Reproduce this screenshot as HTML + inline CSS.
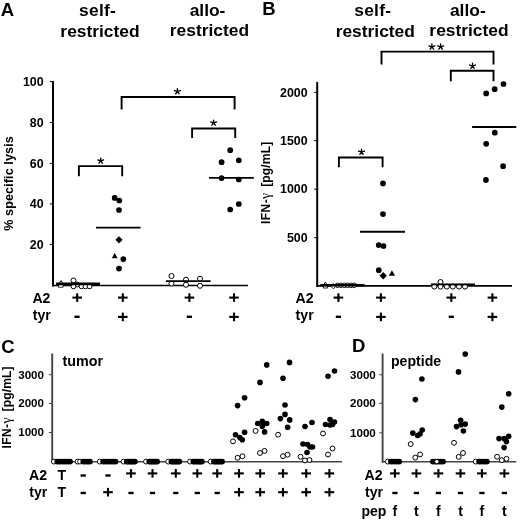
<!DOCTYPE html>
<html><head><meta charset="utf-8">
<style>
html,body{margin:0;padding:0;background:#fff;}
body{width:520px;height:522px;overflow:hidden;}
svg{display:block;filter:grayscale(1);}
text{font-family:"Liberation Sans", sans-serif;fill:#000;}
</style></head>
<body>
<svg width="520" height="522" viewBox="0 0 520 522">
<rect width="520" height="522" fill="#fff"/>
<text x="0.8" y="16.3" font-size="18.5" text-anchor="start" font-weight="bold" >A</text>
<text x="262.2" y="14.8" font-size="18.5" text-anchor="start" font-weight="bold" >B</text>
<text x="1.2" y="352.6" font-size="18.5" text-anchor="start" font-weight="bold" >C</text>
<text x="352" y="352.2" font-size="18.5" text-anchor="start" font-weight="bold" >D</text>
<text x="97.6" y="16.3" font-size="17.4" text-anchor="middle" font-weight="bold" letter-spacing="0.3">self-</text>
<text x="100" y="37" font-size="17.4" text-anchor="middle" font-weight="bold" >restricted</text>
<text x="207.5" y="15.6" font-size="17.4" text-anchor="middle" font-weight="bold" >allo-</text>
<text x="209.4" y="36.3" font-size="17.4" text-anchor="middle" font-weight="bold" >restricted</text>
<text x="372.8" y="16.3" font-size="17.4" text-anchor="middle" font-weight="bold" letter-spacing="0.3">self-</text>
<text x="375.3" y="37" font-size="17.4" text-anchor="middle" font-weight="bold" >restricted</text>
<text x="467.8" y="15.6" font-size="17.4" text-anchor="middle" font-weight="bold" >allo-</text>
<text x="469" y="36.3" font-size="17.4" text-anchor="middle" font-weight="bold" >restricted</text>
<line x1="53" y1="81" x2="53" y2="286.5" stroke="#000" stroke-width="2"/>
<line x1="52" y1="285.5" x2="248" y2="285.5" stroke="#000" stroke-width="1.7"/>
<line x1="49.8" y1="81.6" x2="53" y2="81.6" stroke="#000" stroke-width="1"/>
<text x="43.6" y="86.0" font-size="12.4" text-anchor="end" font-weight="bold" >100</text>
<line x1="49.8" y1="122.6" x2="53" y2="122.6" stroke="#000" stroke-width="1"/>
<text x="43.6" y="127.0" font-size="12.4" text-anchor="end" font-weight="bold" >80</text>
<line x1="49.8" y1="163.4" x2="53" y2="163.4" stroke="#000" stroke-width="1"/>
<text x="43.6" y="167.8" font-size="12.4" text-anchor="end" font-weight="bold" >60</text>
<line x1="49.8" y1="203.9" x2="53" y2="203.9" stroke="#000" stroke-width="1"/>
<text x="43.6" y="208.3" font-size="12.4" text-anchor="end" font-weight="bold" >40</text>
<line x1="49.8" y1="244.4" x2="53" y2="244.4" stroke="#000" stroke-width="1"/>
<text x="43.6" y="248.8" font-size="12.4" text-anchor="end" font-weight="bold" >20</text>
<text transform="translate(12.8,183.5) rotate(-90)" font-size="12.6" font-weight="bold" text-anchor="middle" letter-spacing="0.1">% specific lysis</text>
<circle cx="73.5" cy="280.5" r="2.5" fill="#fff" stroke="#000" stroke-width="1.0"/>
<circle cx="77.3" cy="284.5" r="2.4" fill="#fff" stroke="#000" stroke-width="1.0"/>
<circle cx="73.5" cy="286.4" r="2.4" fill="#fff" stroke="#000" stroke-width="1.0"/>
<circle cx="81.5" cy="286.4" r="2.4" fill="#fff" stroke="#000" stroke-width="1.0"/>
<circle cx="85.4" cy="286.4" r="2.4" fill="#fff" stroke="#000" stroke-width="1.0"/>
<circle cx="89.6" cy="286.4" r="2.4" fill="#fff" stroke="#000" stroke-width="1.0"/>
<polygon points="59.0,283.9 63.0,283.9 61,280.5" fill="#fff" stroke="#000" stroke-width="0.9"/>
<rect x="58.6" y="284.6" width="4.4" height="2.6" fill="#fff" stroke="#000" stroke-width="0.8"/>
<circle cx="114.7" cy="197.9" r="2.85" fill="#000"/>
<circle cx="119.3" cy="200.5" r="2.85" fill="#000"/>
<circle cx="119" cy="210" r="2.85" fill="#000"/>
<circle cx="123.3" cy="259.1" r="2.85" fill="#000"/>
<circle cx="119" cy="268.6" r="2.85" fill="#000"/>
<polygon points="119,236.20000000000002 122.6,239.8 119,243.4 115.4,239.8" fill="#000"/>
<polygon points="111.7,258.3 117.7,258.3 114.7,253.1" fill="#000"/>
<circle cx="171.5" cy="276" r="2.55" fill="#fff" stroke="#000" stroke-width="1.0"/>
<circle cx="171.5" cy="283.5" r="2.55" fill="#fff" stroke="#000" stroke-width="1.0"/>
<circle cx="186" cy="279.75" r="2.55" fill="#fff" stroke="#000" stroke-width="1.0"/>
<circle cx="186" cy="284.75" r="2.55" fill="#fff" stroke="#000" stroke-width="1.0"/>
<circle cx="200" cy="278.75" r="2.55" fill="#fff" stroke="#000" stroke-width="1.0"/>
<circle cx="200" cy="285.75" r="2.55" fill="#fff" stroke="#000" stroke-width="1.0"/>
<circle cx="230.2" cy="150.2" r="2.85" fill="#000"/>
<circle cx="221.6" cy="162.2" r="2.85" fill="#000"/>
<circle cx="238.8" cy="160.3" r="2.85" fill="#000"/>
<circle cx="221.6" cy="178.1" r="2.85" fill="#000"/>
<circle cx="238.8" cy="179.5" r="2.85" fill="#000"/>
<circle cx="238.8" cy="204" r="2.85" fill="#000"/>
<circle cx="230.2" cy="209.5" r="2.85" fill="#000"/>
<polyline points="78.9,176.2 78.9,166.1 122.2,166.1 122.2,176.2" fill="none" stroke="#000" stroke-width="1.9"/>
<path d="M100.70,160.88L100.70,158.08M100.70,160.88L103.65,159.92M100.70,160.88L97.75,159.92M100.70,160.88L102.40,163.22M100.70,160.88L99.00,163.22" stroke="#000" stroke-width="1.35" stroke-linecap="round" fill="none"/>
<polyline points="121.6,109.6 121.6,97 234.6,97 234.6,109.6" fill="none" stroke="#000" stroke-width="1.9"/>
<path d="M177.40,91.47L177.40,88.67M177.40,91.47L180.35,90.52M177.40,91.47L174.45,90.52M177.40,91.47L179.10,93.82M177.40,91.47L175.70,93.82" stroke="#000" stroke-width="1.35" stroke-linecap="round" fill="none"/>
<polyline points="192.1,137.9 192.1,128.5 235.2,128.5 235.2,137.9" fill="none" stroke="#000" stroke-width="1.9"/>
<path d="M213.60,122.88L213.60,120.08M213.60,122.88L216.55,121.92M213.60,122.88L210.65,121.92M213.60,122.88L215.30,125.22M213.60,122.88L211.90,125.22" stroke="#000" stroke-width="1.35" stroke-linecap="round" fill="none"/>
<text x="32.4" y="303" font-size="14.1" text-anchor="start" font-weight="bold" >A2</text>
<text x="32.8" y="319.7" font-size="14.1" text-anchor="start" font-weight="bold" >tyr</text>
<rect x="72.40" y="296.55" width="9.6" height="2.1"/>
<rect x="76.15" y="293.30" width="2.1" height="8.6"/>
<rect x="118.00" y="296.55" width="9.6" height="2.1"/>
<rect x="121.75" y="293.30" width="2.1" height="8.6"/>
<rect x="184.60" y="296.55" width="9.6" height="2.1"/>
<rect x="188.35" y="293.30" width="2.1" height="8.6"/>
<rect x="229.20" y="296.55" width="9.6" height="2.1"/>
<rect x="232.95" y="293.30" width="2.1" height="8.6"/>
<rect x="74.40" y="315.60" width="5.2" height="2.4"/>
<rect x="118.00" y="315.85" width="9.6" height="2.1"/>
<rect x="121.75" y="312.60" width="2.1" height="8.6"/>
<rect x="186.80" y="315.60" width="5.2" height="2.4"/>
<rect x="229.20" y="315.85" width="9.6" height="2.1"/>
<rect x="232.95" y="312.60" width="2.1" height="8.6"/>
<line x1="317.2" y1="81.9" x2="317.2" y2="287" stroke="#000" stroke-width="2"/>
<line x1="316.5" y1="285.9" x2="512" y2="285.9" stroke="#000" stroke-width="1.8"/>
<line x1="314.2" y1="92.4" x2="317.2" y2="92.4" stroke="#000" stroke-width="1"/>
<text x="307.6" y="96.60000000000001" font-size="12.4" text-anchor="end" font-weight="bold" >2000</text>
<line x1="314.2" y1="140.6" x2="317.2" y2="140.6" stroke="#000" stroke-width="1"/>
<text x="307.6" y="144.79999999999998" font-size="12.4" text-anchor="end" font-weight="bold" >1500</text>
<line x1="314.2" y1="189.2" x2="317.2" y2="189.2" stroke="#000" stroke-width="1"/>
<text x="307.6" y="193.39999999999998" font-size="12.4" text-anchor="end" font-weight="bold" >1000</text>
<line x1="314.2" y1="237.7" x2="317.2" y2="237.7" stroke="#000" stroke-width="1"/>
<text x="307.6" y="241.89999999999998" font-size="12.4" text-anchor="end" font-weight="bold" >500</text>
<text transform="translate(270.2,223.9) rotate(-90)" font-size="12" font-weight="bold" letter-spacing="0.4">IFN-<tspan font-family="Liberation Serif" font-weight="normal" font-size="14">&#947;</tspan><tspan dx="5.6" letter-spacing="0.05" font-size="12.2">[pg/mL]</tspan></text>
<circle cx="337.5" cy="285.3" r="2.25" fill="#fff" stroke="#000" stroke-width="0.95"/>
<circle cx="340.9" cy="285.3" r="2.25" fill="#fff" stroke="#000" stroke-width="0.95"/>
<circle cx="344.4" cy="285.3" r="2.25" fill="#fff" stroke="#000" stroke-width="0.95"/>
<circle cx="347.6" cy="285.3" r="2.25" fill="#fff" stroke="#000" stroke-width="0.95"/>
<circle cx="351" cy="285.3" r="2.25" fill="#fff" stroke="#000" stroke-width="0.95"/>
<circle cx="354.2" cy="285.3" r="2.25" fill="#fff" stroke="#000" stroke-width="0.95"/>
<polygon points="323.59999999999997,285.1 327.2,285.1 325.4,282.1" fill="#fff" stroke="#000" stroke-width="0.9"/>
<rect x="323.4" y="285.8" width="4" height="2.2" fill="#fff" stroke="#000" stroke-width="0.8"/>
<polygon points="333.3,283.59999999999997 335.90000000000003,286.2 333.3,288.8 330.7,286.2" fill="#fff" stroke="#000" stroke-width="0.9"/>
<circle cx="383" cy="183.4" r="2.85" fill="#000"/>
<circle cx="383" cy="214.1" r="2.85" fill="#000"/>
<circle cx="378.7" cy="245.1" r="2.85" fill="#000"/>
<circle cx="383.5" cy="246" r="2.85" fill="#000"/>
<circle cx="378.8" cy="270.2" r="2.85" fill="#000"/>
<polygon points="383.2,272.1 386.9,275.8 383.2,279.5 379.5,275.8" fill="#000"/>
<polygon points="388.79999999999995,275.7 395.0,275.7 391.9,270.3" fill="#000"/>
<circle cx="434.3" cy="286.6" r="2.5" fill="#fff" stroke="#000" stroke-width="1.0"/>
<circle cx="440.5" cy="286.6" r="2.5" fill="#fff" stroke="#000" stroke-width="1.0"/>
<circle cx="446.8" cy="286.6" r="2.5" fill="#fff" stroke="#000" stroke-width="1.0"/>
<circle cx="452.8" cy="286.6" r="2.5" fill="#fff" stroke="#000" stroke-width="1.0"/>
<circle cx="459" cy="286.6" r="2.5" fill="#fff" stroke="#000" stroke-width="1.0"/>
<circle cx="465" cy="286.6" r="2.5" fill="#fff" stroke="#000" stroke-width="1.0"/>
<circle cx="440.5" cy="282" r="2.5" fill="#fff" stroke="#000" stroke-width="1.0"/>
<circle cx="486.2" cy="93.4" r="2.85" fill="#000"/>
<circle cx="494.7" cy="89.2" r="2.85" fill="#000"/>
<circle cx="503.5" cy="84.0" r="2.85" fill="#000"/>
<circle cx="494.8" cy="132.7" r="2.85" fill="#000"/>
<circle cx="486.2" cy="143.8" r="2.85" fill="#000"/>
<circle cx="503.1" cy="166.2" r="2.85" fill="#000"/>
<circle cx="485.9" cy="179.9" r="2.85" fill="#000"/>
<polyline points="338.9,167.3 338.9,157.5 382.6,157.5 382.6,167.3" fill="none" stroke="#000" stroke-width="1.9"/>
<path d="M361.50,151.98L361.50,149.18M361.50,151.98L364.45,151.02M361.50,151.98L358.55,151.02M361.50,151.98L363.20,154.32M361.50,151.98L359.80,154.32" stroke="#000" stroke-width="1.35" stroke-linecap="round" fill="none"/>
<polyline points="381.5,64.5 381.5,51.6 493.5,51.6 493.5,64.5" fill="none" stroke="#000" stroke-width="1.9"/>
<path d="M431.90,46.77L431.90,43.97M431.90,46.77L434.85,45.82M431.90,46.77L428.95,45.82M431.90,46.77L433.60,49.12M431.90,46.77L430.20,49.12" stroke="#000" stroke-width="1.35" stroke-linecap="round" fill="none"/>
<path d="M440.60,46.77L440.60,43.97M440.60,46.77L443.55,45.82M440.60,46.77L437.65,45.82M440.60,46.77L442.30,49.12M440.60,46.77L438.90,49.12" stroke="#000" stroke-width="1.35" stroke-linecap="round" fill="none"/>
<polyline points="450.8,81.2 450.8,70.7 493.5,70.7 493.5,81.2" fill="none" stroke="#000" stroke-width="1.9"/>
<path d="M472.50,65.97L472.50,63.17M472.50,65.97L475.45,65.02M472.50,65.97L469.55,65.02M472.50,65.97L474.20,68.32M472.50,65.97L470.80,68.32" stroke="#000" stroke-width="1.35" stroke-linecap="round" fill="none"/>
<text x="295.5" y="303" font-size="14.1" text-anchor="start" font-weight="bold" >A2</text>
<text x="295.6" y="319.7" font-size="14.1" text-anchor="start" font-weight="bold" >tyr</text>
<rect x="333.60" y="296.55" width="9.6" height="2.1"/>
<rect x="337.35" y="293.30" width="2.1" height="8.6"/>
<rect x="376.10" y="296.55" width="9.6" height="2.1"/>
<rect x="379.85" y="293.30" width="2.1" height="8.6"/>
<rect x="446.50" y="296.55" width="9.6" height="2.1"/>
<rect x="450.25" y="293.30" width="2.1" height="8.6"/>
<rect x="487.60" y="296.55" width="9.6" height="2.1"/>
<rect x="491.35" y="293.30" width="2.1" height="8.6"/>
<rect x="335.80" y="315.60" width="5.2" height="2.4"/>
<rect x="376.10" y="315.85" width="9.6" height="2.1"/>
<rect x="379.85" y="312.60" width="2.1" height="8.6"/>
<rect x="448.70" y="315.60" width="5.2" height="2.4"/>
<rect x="487.60" y="315.85" width="9.6" height="2.1"/>
<rect x="491.35" y="312.60" width="2.1" height="8.6"/>
<line x1="52.2" y1="353.5" x2="52.2" y2="462.5" stroke="#444" stroke-width="1.9"/>
<line x1="52" y1="461.8" x2="342" y2="461.8" stroke="#444" stroke-width="1.6"/>
<line x1="48.8" y1="374.7" x2="52.2" y2="374.7" stroke="#444" stroke-width="1"/>
<text x="44.0" y="378.59999999999997" font-size="11.6" text-anchor="end" font-weight="bold" >3000</text>
<line x1="48.8" y1="403.5" x2="52.2" y2="403.5" stroke="#444" stroke-width="1"/>
<text x="44.0" y="407.4" font-size="11.6" text-anchor="end" font-weight="bold" >2000</text>
<line x1="48.8" y1="432.5" x2="52.2" y2="432.5" stroke="#444" stroke-width="1"/>
<text x="44.0" y="436.4" font-size="11.6" text-anchor="end" font-weight="bold" >1000</text>
<text transform="translate(10.7,448.5) rotate(-90)" font-size="12" font-weight="bold" letter-spacing="0.4">IFN-<tspan font-family="Liberation Serif" font-weight="normal" font-size="14">&#947;</tspan><tspan dx="5.6" letter-spacing="0.05" font-size="12.2">[pg/mL]</tspan></text>
<text x="62.6" y="365.6" font-size="14.3" text-anchor="start" font-weight="bold" >tumor</text>
<circle cx="53.9" cy="461.6" r="2.45" fill="#fff" stroke="#000" stroke-width="0.95"/>
<circle cx="57.3" cy="461.6" r="2.95" fill="#000"/>
<circle cx="59.839999999999996" cy="461.6" r="2.95" fill="#000"/>
<circle cx="62.379999999999995" cy="461.6" r="2.95" fill="#000"/>
<circle cx="64.92" cy="461.6" r="2.95" fill="#000"/>
<circle cx="67.46" cy="461.6" r="2.95" fill="#000"/>
<circle cx="70.0" cy="461.6" r="2.95" fill="#000"/>
<circle cx="77.6" cy="461.6" r="2.45" fill="#fff" stroke="#000" stroke-width="0.95"/>
<circle cx="80.0" cy="461.6" r="2.45" fill="#fff" stroke="#000" stroke-width="0.95"/>
<circle cx="83.3" cy="461.6" r="2.95" fill="#000"/>
<circle cx="85.5" cy="461.6" r="2.95" fill="#000"/>
<circle cx="87.7" cy="461.6" r="2.95" fill="#000"/>
<circle cx="89.9" cy="461.6" r="2.95" fill="#000"/>
<circle cx="99.8" cy="461.6" r="2.45" fill="#fff" stroke="#000" stroke-width="0.95"/>
<circle cx="103.2" cy="461.6" r="2.95" fill="#000"/>
<circle cx="105.66" cy="461.6" r="2.95" fill="#000"/>
<circle cx="108.12" cy="461.6" r="2.95" fill="#000"/>
<circle cx="110.58" cy="461.6" r="2.95" fill="#000"/>
<circle cx="113.04" cy="461.6" r="2.95" fill="#000"/>
<circle cx="115.5" cy="461.6" r="2.95" fill="#000"/>
<circle cx="123.5" cy="461.6" r="2.45" fill="#fff" stroke="#000" stroke-width="0.95"/>
<circle cx="126.8" cy="461.6" r="2.95" fill="#000"/>
<circle cx="128.42" cy="461.6" r="2.95" fill="#000"/>
<circle cx="130.04" cy="461.6" r="2.95" fill="#000"/>
<circle cx="131.66" cy="461.6" r="2.95" fill="#000"/>
<circle cx="133.28" cy="461.6" r="2.95" fill="#000"/>
<circle cx="134.9" cy="461.6" r="2.95" fill="#000"/>
<circle cx="146" cy="461.6" r="2.45" fill="#fff" stroke="#000" stroke-width="0.95"/>
<circle cx="149.3" cy="461.6" r="2.95" fill="#000"/>
<circle cx="150.86" cy="461.6" r="2.95" fill="#000"/>
<circle cx="152.42000000000002" cy="461.6" r="2.95" fill="#000"/>
<circle cx="153.98" cy="461.6" r="2.95" fill="#000"/>
<circle cx="155.54" cy="461.6" r="2.95" fill="#000"/>
<circle cx="157.1" cy="461.6" r="2.95" fill="#000"/>
<circle cx="168.2" cy="461.6" r="2.45" fill="#fff" stroke="#000" stroke-width="0.95"/>
<circle cx="171.5" cy="461.6" r="2.95" fill="#000"/>
<circle cx="173.06" cy="461.6" r="2.95" fill="#000"/>
<circle cx="174.62" cy="461.6" r="2.95" fill="#000"/>
<circle cx="176.18" cy="461.6" r="2.95" fill="#000"/>
<circle cx="177.74" cy="461.6" r="2.95" fill="#000"/>
<circle cx="179.3" cy="461.6" r="2.95" fill="#000"/>
<circle cx="190.1" cy="461.6" r="2.45" fill="#fff" stroke="#000" stroke-width="0.95"/>
<circle cx="193.4" cy="461.6" r="2.95" fill="#000"/>
<circle cx="195.1" cy="461.6" r="2.95" fill="#000"/>
<circle cx="196.8" cy="461.6" r="2.95" fill="#000"/>
<circle cx="198.5" cy="461.6" r="2.95" fill="#000"/>
<circle cx="200.20000000000002" cy="461.6" r="2.95" fill="#000"/>
<circle cx="201.9" cy="461.6" r="2.95" fill="#000"/>
<circle cx="210.7" cy="461.6" r="2.45" fill="#fff" stroke="#000" stroke-width="0.95"/>
<circle cx="214.0" cy="461.6" r="2.95" fill="#000"/>
<circle cx="215.62" cy="461.6" r="2.95" fill="#000"/>
<circle cx="217.24" cy="461.6" r="2.95" fill="#000"/>
<circle cx="218.85999999999999" cy="461.6" r="2.95" fill="#000"/>
<circle cx="220.48" cy="461.6" r="2.95" fill="#000"/>
<circle cx="222.1" cy="461.6" r="2.95" fill="#000"/>
<circle cx="233" cy="441.4" r="2.45" fill="#fff" stroke="#000" stroke-width="1.0"/>
<circle cx="237.6" cy="457.8" r="2.45" fill="#fff" stroke="#000" stroke-width="1.0"/>
<circle cx="242.5" cy="456.2" r="2.45" fill="#fff" stroke="#000" stroke-width="1.0"/>
<circle cx="237.6" cy="405.6" r="2.8" fill="#000"/>
<circle cx="244.6" cy="397.8" r="2.8" fill="#000"/>
<circle cx="235.5" cy="434.7" r="2.8" fill="#000"/>
<circle cx="239.8" cy="437.6" r="2.8" fill="#000"/>
<circle cx="242.3" cy="439.7" r="2.8" fill="#000"/>
<circle cx="244.6" cy="432.3" r="2.8" fill="#000"/>
<circle cx="255.6" cy="430.9" r="2.45" fill="#fff" stroke="#000" stroke-width="1.0"/>
<circle cx="260" cy="453" r="2.45" fill="#fff" stroke="#000" stroke-width="1.0"/>
<circle cx="264.6" cy="450.9" r="2.45" fill="#fff" stroke="#000" stroke-width="1.0"/>
<circle cx="266.7" cy="364.9" r="2.8" fill="#000"/>
<circle cx="260" cy="382.4" r="2.8" fill="#000"/>
<circle cx="257.7" cy="423.5" r="2.8" fill="#000"/>
<circle cx="262.3" cy="421.4" r="2.8" fill="#000"/>
<circle cx="262.3" cy="426.2" r="2.8" fill="#000"/>
<circle cx="266.7" cy="423.5" r="2.8" fill="#000"/>
<circle cx="264.6" cy="431.9" r="2.8" fill="#000"/>
<circle cx="278.1" cy="434.7" r="2.45" fill="#fff" stroke="#000" stroke-width="1.0"/>
<circle cx="283" cy="456.2" r="2.45" fill="#fff" stroke="#000" stroke-width="1.0"/>
<circle cx="287.6" cy="454.7" r="2.45" fill="#fff" stroke="#000" stroke-width="1.0"/>
<circle cx="289.5" cy="362.4" r="2.8" fill="#000"/>
<circle cx="283" cy="378.2" r="2.8" fill="#000"/>
<circle cx="285" cy="405" r="2.8" fill="#000"/>
<circle cx="285" cy="414.4" r="2.8" fill="#000"/>
<circle cx="280.4" cy="418.6" r="2.8" fill="#000"/>
<circle cx="289.7" cy="419.9" r="2.8" fill="#000"/>
<circle cx="287.6" cy="427.3" r="2.8" fill="#000"/>
<circle cx="300.5" cy="456.75" r="2.45" fill="#fff" stroke="#000" stroke-width="1.0"/>
<circle cx="305" cy="460.5" r="2.45" fill="#fff" stroke="#000" stroke-width="1.0"/>
<circle cx="309.5" cy="460" r="2.45" fill="#fff" stroke="#000" stroke-width="1.0"/>
<circle cx="305" cy="426.5" r="2.8" fill="#000"/>
<circle cx="312" cy="422.5" r="2.8" fill="#000"/>
<circle cx="303" cy="444" r="2.8" fill="#000"/>
<circle cx="307.5" cy="444.5" r="2.8" fill="#000"/>
<circle cx="310" cy="447" r="2.8" fill="#000"/>
<circle cx="312.5" cy="447" r="2.8" fill="#000"/>
<circle cx="307" cy="452.5" r="2.8" fill="#000"/>
<circle cx="323" cy="433.5" r="2.45" fill="#fff" stroke="#000" stroke-width="1.0"/>
<circle cx="328" cy="454.5" r="2.45" fill="#fff" stroke="#000" stroke-width="1.0"/>
<circle cx="332.5" cy="448.5" r="2.45" fill="#fff" stroke="#000" stroke-width="1.0"/>
<circle cx="328" cy="376.25" r="2.8" fill="#000"/>
<circle cx="334.5" cy="371" r="2.8" fill="#000"/>
<circle cx="325.5" cy="424.5" r="2.8" fill="#000"/>
<circle cx="330" cy="419.5" r="2.8" fill="#000"/>
<circle cx="330" cy="425" r="2.8" fill="#000"/>
<circle cx="334.5" cy="422" r="2.8" fill="#000"/>
<circle cx="332.5" cy="424.5" r="2.8" fill="#000"/>
<text x="29.0" y="479.8" font-size="14.1" text-anchor="start" font-weight="bold" >A2</text>
<text x="29.3" y="496.6" font-size="14.1" text-anchor="start" font-weight="bold" >tyr</text>
<text x="57.6" y="479.8" font-size="14.1" text-anchor="start" font-weight="bold" >T</text>
<text x="57.6" y="496.6" font-size="14.1" text-anchor="start" font-weight="bold" >T</text>
<rect x="80.60" y="474.30" width="5.2" height="2.4"/>
<rect x="80.60" y="491.80" width="5.2" height="2.4"/>
<rect x="105.40" y="474.30" width="5.2" height="2.4"/>
<rect x="103.20" y="491.15" width="9.6" height="2.1"/>
<rect x="106.95" y="487.90" width="2.1" height="8.6"/>
<rect x="126.20" y="472.35" width="9.6" height="2.1"/>
<rect x="129.95" y="469.10" width="2.1" height="8.6"/>
<rect x="128.40" y="491.80" width="5.2" height="2.4"/>
<rect x="147.70" y="472.35" width="9.6" height="2.1"/>
<rect x="151.45" y="469.10" width="2.1" height="8.6"/>
<rect x="149.90" y="491.80" width="5.2" height="2.4"/>
<rect x="171.00" y="472.35" width="9.6" height="2.1"/>
<rect x="174.75" y="469.10" width="2.1" height="8.6"/>
<rect x="173.20" y="491.80" width="5.2" height="2.4"/>
<rect x="192.50" y="472.35" width="9.6" height="2.1"/>
<rect x="196.25" y="469.10" width="2.1" height="8.6"/>
<rect x="194.70" y="491.80" width="5.2" height="2.4"/>
<rect x="212.40" y="472.35" width="9.6" height="2.1"/>
<rect x="216.15" y="469.10" width="2.1" height="8.6"/>
<rect x="214.60" y="491.80" width="5.2" height="2.4"/>
<rect x="234.20" y="472.35" width="9.6" height="2.1"/>
<rect x="237.95" y="469.10" width="2.1" height="8.6"/>
<rect x="234.20" y="491.15" width="9.6" height="2.1"/>
<rect x="237.95" y="487.90" width="2.1" height="8.6"/>
<rect x="255.40" y="472.35" width="9.6" height="2.1"/>
<rect x="259.15" y="469.10" width="2.1" height="8.6"/>
<rect x="255.40" y="491.15" width="9.6" height="2.1"/>
<rect x="259.15" y="487.90" width="2.1" height="8.6"/>
<rect x="278.20" y="472.35" width="9.6" height="2.1"/>
<rect x="281.95" y="469.10" width="2.1" height="8.6"/>
<rect x="278.20" y="491.15" width="9.6" height="2.1"/>
<rect x="281.95" y="487.90" width="2.1" height="8.6"/>
<rect x="301.40" y="472.35" width="9.6" height="2.1"/>
<rect x="305.15" y="469.10" width="2.1" height="8.6"/>
<rect x="301.40" y="491.15" width="9.6" height="2.1"/>
<rect x="305.15" y="487.90" width="2.1" height="8.6"/>
<rect x="324.60" y="472.35" width="9.6" height="2.1"/>
<rect x="328.35" y="469.10" width="2.1" height="8.6"/>
<rect x="324.60" y="491.15" width="9.6" height="2.1"/>
<rect x="328.35" y="487.90" width="2.1" height="8.6"/>
<line x1="382.6" y1="353.5" x2="382.6" y2="462.5" stroke="#444" stroke-width="1.9"/>
<line x1="382" y1="461.8" x2="516.3" y2="461.8" stroke="#444" stroke-width="1.6"/>
<line x1="379.2" y1="374.7" x2="382.6" y2="374.7" stroke="#444" stroke-width="1"/>
<text x="375.8" y="378.59999999999997" font-size="11.6" text-anchor="end" font-weight="bold" >3000</text>
<line x1="379.2" y1="403.3" x2="382.6" y2="403.3" stroke="#444" stroke-width="1"/>
<text x="375.8" y="407.2" font-size="11.6" text-anchor="end" font-weight="bold" >2000</text>
<line x1="379.2" y1="432.8" x2="382.6" y2="432.8" stroke="#444" stroke-width="1"/>
<text x="375.8" y="436.7" font-size="11.6" text-anchor="end" font-weight="bold" >1000</text>
<text x="391" y="366.2" font-size="14.1" text-anchor="start" font-weight="bold" >peptide</text>
<circle cx="387.8" cy="461.6" r="2.45" fill="#fff" stroke="#000" stroke-width="0.95"/>
<circle cx="391.0" cy="461.6" r="2.95" fill="#000"/>
<circle cx="393.73333333333335" cy="461.6" r="2.95" fill="#000"/>
<circle cx="396.46666666666664" cy="461.6" r="2.95" fill="#000"/>
<circle cx="399.2" cy="461.6" r="2.95" fill="#000"/>
<circle cx="433.0" cy="461.6" r="2.95" fill="#000"/>
<circle cx="435.5" cy="461.6" r="2.95" fill="#000"/>
<circle cx="438.0" cy="461.6" r="2.95" fill="#000"/>
<circle cx="440.5" cy="461.6" r="2.95" fill="#000"/>
<circle cx="443.0" cy="461.6" r="2.95" fill="#000"/>
<circle cx="436.8" cy="461.6" r="2.2" fill="#fff" stroke="#000" stroke-width="0.95"/>
<circle cx="475.7" cy="461.6" r="2.45" fill="#fff" stroke="#000" stroke-width="0.95"/>
<circle cx="479.2" cy="461.6" r="2.95" fill="#000"/>
<circle cx="481.73333333333335" cy="461.6" r="2.95" fill="#000"/>
<circle cx="484.26666666666665" cy="461.6" r="2.95" fill="#000"/>
<circle cx="486.8" cy="461.6" r="2.95" fill="#000"/>
<circle cx="410.7" cy="444.1" r="2.45" fill="#fff" stroke="#000" stroke-width="1.0"/>
<circle cx="415.3" cy="457.6" r="2.45" fill="#fff" stroke="#000" stroke-width="1.0"/>
<circle cx="420.1" cy="454.4" r="2.45" fill="#fff" stroke="#000" stroke-width="1.0"/>
<circle cx="421.9" cy="379" r="2.8" fill="#000"/>
<circle cx="415.4" cy="399.6" r="2.8" fill="#000"/>
<circle cx="412.8" cy="433.1" r="2.8" fill="#000"/>
<circle cx="417.6" cy="435.5" r="2.8" fill="#000"/>
<circle cx="420" cy="434" r="2.8" fill="#000"/>
<circle cx="422.2" cy="430" r="2.8" fill="#000"/>
<circle cx="454" cy="442.8" r="2.45" fill="#fff" stroke="#000" stroke-width="1.0"/>
<circle cx="458.7" cy="456.9" r="2.45" fill="#fff" stroke="#000" stroke-width="1.0"/>
<circle cx="463" cy="453" r="2.45" fill="#fff" stroke="#000" stroke-width="1.0"/>
<circle cx="465.2" cy="354.1" r="2.8" fill="#000"/>
<circle cx="458.5" cy="371.9" r="2.8" fill="#000"/>
<circle cx="460.6" cy="420.2" r="2.8" fill="#000"/>
<circle cx="456.5" cy="426.6" r="2.8" fill="#000"/>
<circle cx="461.1" cy="424.8" r="2.8" fill="#000"/>
<circle cx="465.2" cy="424.1" r="2.8" fill="#000"/>
<circle cx="463.4" cy="431" r="2.8" fill="#000"/>
<circle cx="497.1" cy="456.8" r="2.45" fill="#fff" stroke="#000" stroke-width="1.0"/>
<circle cx="501.8" cy="460.2" r="2.45" fill="#fff" stroke="#000" stroke-width="1.0"/>
<circle cx="506.5" cy="458.8" r="2.45" fill="#fff" stroke="#000" stroke-width="1.0"/>
<circle cx="508.7" cy="393.7" r="2.8" fill="#000"/>
<circle cx="501.8" cy="407.1" r="2.8" fill="#000"/>
<circle cx="499" cy="438.6" r="2.8" fill="#000"/>
<circle cx="504.1" cy="438.6" r="2.8" fill="#000"/>
<circle cx="508.7" cy="436.3" r="2.8" fill="#000"/>
<circle cx="506.4" cy="441.6" r="2.8" fill="#000"/>
<circle cx="504.1" cy="447.6" r="2.8" fill="#000"/>
<text x="364.6" y="479.8" font-size="14.1" text-anchor="start" font-weight="bold" >A2</text>
<text x="365.0" y="496.6" font-size="14.1" text-anchor="start" font-weight="bold" >tyr</text>
<text x="361.4" y="515.6" font-size="14.1" text-anchor="start" font-weight="bold" >pep</text>
<rect x="390.10" y="472.35" width="9.6" height="2.1"/>
<rect x="393.85" y="469.10" width="2.1" height="8.6"/>
<rect x="392.30" y="491.80" width="5.2" height="2.4"/>
<text x="394.9" y="515.6" font-size="14.1" text-anchor="middle" font-weight="bold" >f</text>
<rect x="411.60" y="472.35" width="9.6" height="2.1"/>
<rect x="415.35" y="469.10" width="2.1" height="8.6"/>
<rect x="413.80" y="491.80" width="5.2" height="2.4"/>
<text x="416.4" y="515.6" font-size="14.1" text-anchor="middle" font-weight="bold" >t</text>
<rect x="433.60" y="472.35" width="9.6" height="2.1"/>
<rect x="437.35" y="469.10" width="2.1" height="8.6"/>
<rect x="435.80" y="491.80" width="5.2" height="2.4"/>
<text x="438.4" y="515.6" font-size="14.1" text-anchor="middle" font-weight="bold" >f</text>
<rect x="455.70" y="472.35" width="9.6" height="2.1"/>
<rect x="459.45" y="469.10" width="2.1" height="8.6"/>
<rect x="457.90" y="491.80" width="5.2" height="2.4"/>
<text x="460.5" y="515.6" font-size="14.1" text-anchor="middle" font-weight="bold" >t</text>
<rect x="477.10" y="472.35" width="9.6" height="2.1"/>
<rect x="480.85" y="469.10" width="2.1" height="8.6"/>
<rect x="479.30" y="491.80" width="5.2" height="2.4"/>
<text x="481.9" y="515.6" font-size="14.1" text-anchor="middle" font-weight="bold" >f</text>
<rect x="499.60" y="472.35" width="9.6" height="2.1"/>
<rect x="503.35" y="469.10" width="2.1" height="8.6"/>
<rect x="501.80" y="491.80" width="5.2" height="2.4"/>
<text x="504.4" y="515.6" font-size="14.1" text-anchor="middle" font-weight="bold" >t</text>
<line x1="56" y1="283.9" x2="100" y2="283.9" stroke="#000" stroke-width="2.6"/>
<line x1="96" y1="227.6" x2="140.5" y2="227.6" stroke="#000" stroke-width="1.85"/>
<line x1="165.9" y1="281.1" x2="210.6" y2="281.1" stroke="#000" stroke-width="1.85"/>
<line x1="209" y1="177.8" x2="253.8" y2="177.8" stroke="#000" stroke-width="1.85"/>
<line x1="320.2" y1="285.2" x2="364.6" y2="285.2" stroke="#000" stroke-width="2.4"/>
<line x1="360" y1="231.7" x2="405" y2="231.7" stroke="#000" stroke-width="1.85"/>
<line x1="430.9" y1="284.3" x2="475" y2="284.3" stroke="#000" stroke-width="1.85"/>
<line x1="472.1" y1="127" x2="516.3" y2="127" stroke="#000" stroke-width="1.85"/>
</svg>
</body></html>
